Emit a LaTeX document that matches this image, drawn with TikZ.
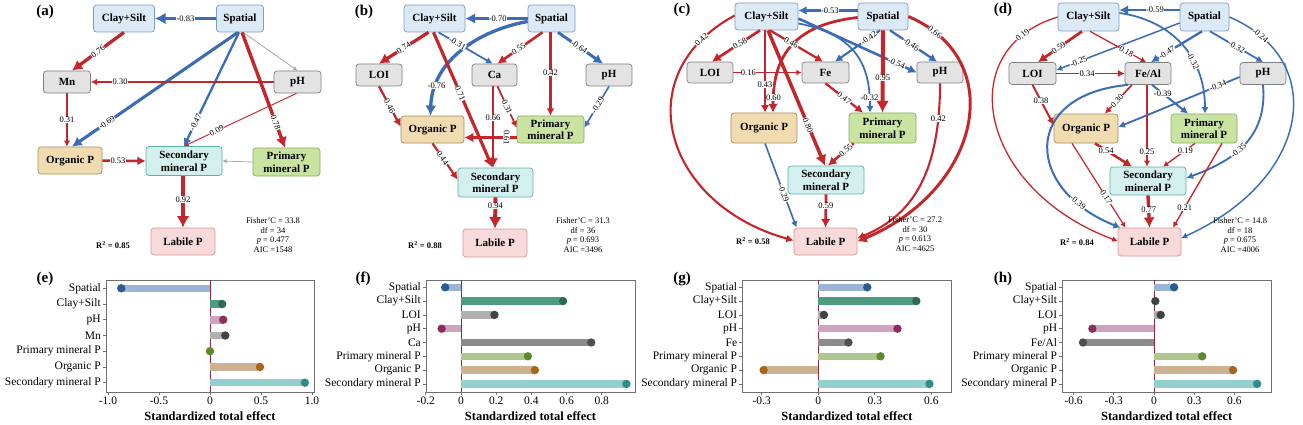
\documentclass[tikz,border=0pt]{standalone}
\usepackage{fontspec}
\setmainfont{Liberation Serif}
\usetikzlibrary{arrows.meta}
\definecolor{ared}{HTML}{C3262B}
\definecolor{ablue}{HTML}{3C6DB4}
\definecolor{agray}{HTML}{A9A9A9}
\definecolor{bxb}{HTML}{DCE9F7}\definecolor{bxbd}{HTML}{7C9CC4}
\definecolor{bxg}{HTML}{E3E3E3}\definecolor{bxgd}{HTML}{808080}
\definecolor{bxo}{HTML}{F1DCB2}\definecolor{bxod}{HTML}{A38D63}
\definecolor{bxs}{HTML}{D3F0EE}\definecolor{bxsd}{HTML}{5AB0AC}
\definecolor{bxp}{HTML}{C9E3A2}\definecolor{bxpd}{HTML}{88AE5E}
\definecolor{bxl}{HTML}{F8DADA}\definecolor{bxld}{HTML}{D69696}
\definecolor{bSp}{HTML}{9CB3D2}\definecolor{dSp}{HTML}{2A5B93}
\definecolor{bCs}{HTML}{4F9B80}\definecolor{dCs}{HTML}{2C6A55}
\definecolor{bPh}{HTML}{CDA3BF}\definecolor{dPh}{HTML}{8C2D5B}
\definecolor{bLo}{HTML}{B0B0B0}\definecolor{dLo}{HTML}{434343}
\definecolor{bCa}{HTML}{8C8C8C}\definecolor{dCa}{HTML}{4F4F4F}
\definecolor{bPr}{HTML}{AEC78F}\definecolor{dPr}{HTML}{5D8A2B}
\definecolor{bOr}{HTML}{CDB292}\definecolor{dOr}{HTML}{A6661C}
\definecolor{bSe}{HTML}{93CFCF}\definecolor{dSe}{HTML}{2E8C8A}
\definecolor{zl}{HTML}{8E2B3E}
\definecolor{frm}{HTML}{707070}
\tikzset{
  nd/.style={draw, rounded corners=3pt, line width=0.7pt, align=center, inner sep=0pt,
    font=\bfseries\fontsize{11}{12.5}\selectfont},
  sz/.style 2 args={minimum width=#1pt, minimum height=#2pt},
  bb/.style={nd, fill=bxb, draw=bxbd},
  gb/.style={nd, fill=bxg, draw=bxgd},
  ob/.style={nd, fill=bxo, draw=bxod},
  sb/.style={nd, fill=bxs, draw=bxsd},
  pb/.style={nd, fill=bxp, draw=bxpd},
  lb/.style={nd, fill=bxl, draw=bxld},
  tip/.style={-{Latex[length=2.5pt 2.3, width=2.5pt 2.6]}},
  re/.style={draw=ared, line width=#1pt, tip},
  be/.style={draw=ablue, line width=#1pt, tip},
  ge/.style={draw=agray, line width=0.8pt, tip},
  el/.style={font=\fontsize{8.5}{9}\selectfont, fill=white, inner sep=0.4pt},
  rsq/.style={font=\bfseries\fontsize{8.5}{9}\selectfont},
  stat/.style={font=\fontsize{8.5}{9.6}\selectfont, align=center},
  plab/.style={font=\bfseries\fontsize{15}{16}\selectfont},
  frame/.style={draw=frm, line width=0.8pt},
  effbar/.style={line width=7.5pt, draw=#1},
  ytl/.style={font=\fontsize{11.5}{12}\selectfont, anchor=east, inner sep=0pt},
  xtl/.style={font=\fontsize{11.5}{12}\selectfont, anchor=north, inner sep=1pt},
  xl/.style={font=\bfseries\fontsize{12.5}{13}\selectfont},
}
% #1 zero x, #2 scale, #3 left, #4 right, #5 dy, #6 list, #7 ticks, #8 prefix, #9 y0
\newcommand\effchart[9]{%
  \draw[frame] (#3,280) rectangle (#4,392);
  \draw[zl, line width=0.8pt] (#1,280) -- (#1,392);
  \foreach \i/\nm/\v/\bc/\dc in {#6} {
    \pgfmathsetmacro\yy{#9+\i*#5}
    \pgfmathsetmacro\xx{#1+#2*\v}
    \draw[effbar=\bc] (#1,\yy) -- (\xx,\yy);
    \fill[\dc] (\xx,\yy) circle[radius=4.2pt];
    \draw[frame] (#3,\yy) -- ++(-3,0);
    \node[ytl] (#8y\i) at ({#3-5},\yy) {\nm};
  }
  \foreach \t/\lb [count=\k] in {#7} {
    \draw[frame] ({#1+#2*\t},392) -- ++(0,3);
    \node[xtl] (#8x\k) at ({#1+#2*\t},395.5) {\lb};
  }
  \node[xl] (#8xl) at ({(#3+#4)/2},416) {Standardized total effect};
}
\begin{document}
\begin{tikzpicture}[x=1pt,y=-1pt]
\useasboundingbox[fill=white] (0,0) rectangle (1303,425);

% ================= (a) =================
\node[plab] (a-lab0) at (45,12) {(a)};
\node[bb,sz={61}{27}] (a-cs) at (124,18.5) {Clay+Silt};
\node[bb,sz={47}{27}] (a-sp) at (240,18.5) {Spatial};
\node[gb,sz={47}{22}] (a-mn) at (67,82) {Mn};
\node[gb,sz={47}{22}] (a-ph) at (297.5,82) {pH};
\node[ob,sz={64}{27}] (a-org) at (70,160.5) {Organic P};
\node[sb,sz={76}{29}] (a-sec) at (184,161) {Secondary\\mineral P};
\node[pb,sz={67}{28}] (a-pri) at (286.5,162) {Primary\\mineral P};
\node[lb,sz={64}{27}] (a-lab) at (183,241.5) {Labile P};
\draw[be=3.59] (a-sp.west) -- node[el]{-0.83} (a-cs.east);
\draw[ge] ([xshift=3pt]a-sp.south) -- (a-ph.north);
\draw[re=3.34] (a-cs.south) -- node[el,sloped]{0.76} ([xshift=5pt]a-mn.north);
\draw[be=3.08] ([xshift=-2pt]a-sp.south) -- node[el,sloped,pos=0.79]{-0.69} ([xshift=2pt]a-org.north);
\draw[be=2.29] ([xshift=-1pt]a-sp.south) -- node[el,sloped,pos=0.79]{-0.47} (a-sec.north);
\draw[re=1.68] (a-ph.west) -- node[el,pos=0.84]{0.30} (a-mn.east);
\draw[re=1.5] (a-mn.south) -- node[el]{0.31} ([xshift=-3pt]a-org.north);
\draw[re=0.92] ([xshift=-1pt]a-ph.south) -- node[el,sloped,pos=0.71]{0.09} (a-sec.north);
\draw[re=3.41] ([xshift=2pt]a-sp.south) -- node[el,sloped,pos=0.78]{0.78} ([xshift=-1.5pt]a-pri.north);
\draw[re=2.5] (a-org.east) -- node[el,pos=0.36]{0.53} (a-sec.west);
\draw[ge] (a-pri.west) -- (a-sec.east);
\draw[re=3.91] ([xshift=-1pt]a-sec.south) -- node[el,pos=0.46]{0.92} (a-lab.north);
\node[rsq] (a-r2) at (113,245) {R\textsuperscript{2} = 0.85};
\node[stat] (a-st) at (273,235) {Fisher’C = 33.8\\df = 34\\\textit{p} = 0.477\\AIC =1548};

% ================= (b) =================
\node[plab] (b-lab0) at (364,12) {(b)};
\node[bb,sz={61}{27}] (b-cs) at (434.5,18.5) {Clay+Silt};
\node[bb,sz={47}{27}] (b-sp) at (551.5,18.5) {Spatial};
\node[gb,sz={46}{22}] (b-loi) at (379,75) {LOI};
\node[gb,sz={45}{22}] (b-ca) at (494.5,75) {Ca};
\node[gb,sz={46}{22}] (b-ph) at (609,75) {pH};
\node[ob,sz={63}{27}] (b-org) at (432.5,129.5) {Organic P};
\node[pb,sz={67}{27}] (b-pri) at (550.5,129.5) {Primary\\mineral P};
\node[sb,sz={75}{29}] (b-sec) at (495.5,182.5) {Secondary\\mineral P};
\node[lb,sz={64}{28}] (b-lab) at (495,243) {Labile P};
\draw[be=3.34] ([yshift=-3pt]b-sp.west) .. controls (480,30) and (432,60) .. node[el,pos=0.8]{-0.76} ([xshift=-2pt]b-org.north);
\draw[be=3.12] (b-sp.west) -- node[el,pos=0.48]{-0.70} (b-cs.east);
\draw[re=3.16] ([xshift=-1pt]b-cs.south) -- node[el,sloped,pos=0.45]{0.71} ([xshift=-3pt]b-sec.north);
\draw[re=3.26] ([xshift=-6pt]b-cs.south) -- node[el,sloped]{0.74} (b-loi.north);
\draw[be=1.72] ([xshift=4pt]b-cs.south) -- node[el,sloped,pos=0.35]{-0.31} ([xshift=-2pt]b-ca.north);
\draw[re=2.58] ([xshift=-9pt]b-sp.south) -- node[el,sloped,pos=0.53]{0.55} ([xshift=3pt]b-ca.north);
\draw[re=2.1] ([xshift=-1pt]b-sp.south) -- node[el,pos=0.49]{0.42} (b-pri.north);
\draw[be=2.9] ([xshift=6.5pt]b-sp.south) -- node[el,sloped,pos=0.47]{-0.64} ([xshift=-6pt]b-ph.north);
\draw[re=2.26] (b-loi.south) -- node[el,sloped,pos=0.49]{0.46} ([yshift=3pt]b-org.west);
\draw[re=2.98] ([xshift=-1.5pt]b-ca.south) -- node[el,pos=0.39]{0.66} ([xshift=-2.5pt]b-sec.north);
\draw[re=1.72] ([xshift=3pt]b-ca.south) -- node[el,sloped]{0.31} ([yshift=2pt]b-pri.west);
\draw[be=1.64] (b-ph.south) -- node[el,sloped,pos=0.46]{-0.29} ([yshift=2pt]b-pri.east);
\draw[re=2.8] ([yshift=-8pt]b-pri.west) -- node[el,rotate=-90,pos=0.19]{0.61} ([yshift=-8pt]b-org.east);
\draw[re=2.18] (b-org.south) -- node[el,sloped,pos=0.4]{0.44} ([yshift=3pt]b-sec.west);
\draw[re=3.98] (b-sec.south) -- node[el,pos=0.28]{0.94} (b-lab.north);
\node[rsq] (b-r2) at (425,245) {R\textsuperscript{2} = 0.88};
\node[stat] (b-st) at (583,235) {Fisher’C = 31.3\\df = 36\\\textit{p} = 0.693\\AIC =3496};

% ================= (c) =================
\node[plab] (c-lab0) at (682,10) {(c)};
\node[bb,sz={63}{27}] (c-cs) at (766.5,16.5) {Clay+Silt};
\node[bb,sz={50}{27}] (c-sp) at (883,16.5) {Spatial};
\node[gb,sz={46}{21}] (c-loi) at (710,72.5) {LOI};
\node[gb,sz={47}{21}] (c-fe) at (825.5,72.5) {Fe};
\node[gb,sz={46}{21}] (c-ph) at (940,72.5) {pH};
\node[ob,sz={66}{30}] (c-org) at (764,128) {Organic P};
\node[pb,sz={67}{30}] (c-pri) at (882.5,128) {Primary\\mineral P};
\node[sb,sz={76}{28}] (c-sec) at (826,180) {Secondary\\mineral P};
\node[lb,sz={63}{27}] (c-lab) at (825.5,241.5) {Labile P};
\draw[re=2.1] ([yshift=1pt]c-cs.west) .. controls (625,75) and (665,205) .. node[el,sloped,pos=0.12]{0.42} ([yshift=1pt]c-lab.west);
\draw[re=2.98] (c-sp.east) .. controls (1010,60) and (980,190) .. node[el,sloped,pos=0.1]{0.66} (c-lab.east);
\draw[re=2.1] (c-ph.south) .. controls (940,190) and (900,220) .. node[el,pos=0.12]{0.42} ([yshift=3pt]c-lab.east);
\draw[re=2.76] ([yshift=-1pt]c-sp.west) .. controls (790,25) and (773,60) .. node[el,pos=0.9]{0.60} ([xshift=9pt]c-org.north);
\draw[be=1.75] ([yshift=-7pt]c-cs.east) .. controls (860,35) and (870,70) .. node[el,pos=0.88]{-0.32} ([xshift=-12.5pt]c-pri.north);
\draw[be=2.5] ([yshift=6pt]c-sp.west) -- node[el,pos=0.47]{-0.53} ([yshift=6pt]c-cs.east);
\draw[re=2.69] ([xshift=-6.5pt]c-cs.south) -- node[el,sloped,pos=0.42]{0.58} ([xshift=2pt]c-loi.north);
\draw[re=2.26] ([xshift=3.5pt]c-cs.south) -- node[el,sloped,pos=0.4]{0.46} ([xshift=-2.5pt]c-fe.north);
\draw[re=2.15] ([xshift=-1.5pt]c-cs.south) -- node[el,pos=0.66]{0.43} ([xshift=1pt]c-org.north);
\draw[re=3.48] ([xshift=1.5pt]c-cs.south) -- node[el,sloped,pos=0.7]{0.80} ([xshift=-1pt]c-sec.north);
\draw[be=2.54] ([yshift=-2pt]c-cs.east) -- node[el,sloped,pos=0.83]{-0.54} (c-ph.west);
\draw[be=2.1] ([xshift=-3pt]c-sp.south) -- node[el,sloped,pos=0.25]{-0.42} ([xshift=9.5pt]c-fe.north);
\draw[re=4.02] (c-sp.south) -- node[el,pos=0.58]{0.95} (c-pri.north);
\draw[be=2.26] ([xshift=7pt]c-sp.south) -- node[el,sloped,pos=0.45]{-0.46} ([xshift=-3pt]c-ph.north);
\draw[re=1.18] (c-loi.east) -- node[el,pos=0.22]{0.16} (c-fe.west);
\draw[re=2.29] (c-fe.south) -- node[el,sloped,pos=0.5]{0.47} ([xshift=-19.5pt]c-pri.north);
\draw[re=2.58] ([xshift=5pt]c-pri.south west) -- node[el,sloped,pos=0.3]{0.55} ([xshift=2pt]c-sec.north);
\draw[be=1.64] ([xshift=1pt]c-org.south) -- node[el,sloped,pos=0.59]{-0.29} ([xshift=-29pt]c-lab.north);
\draw[re=2.72] (c-sec.south) -- node[el,pos=0.35]{0.59} (c-lab.north);
\node[rsq] (c-r2) at (753,241) {R\textsuperscript{2} = 0.58};
\node[stat] (c-st) at (915,234) {Fisher’C = 27.2\\df = 30\\\textit{p} = 0.613\\AIC =4625};

% ================= (d) =================
\node[plab] (d-lab0) at (1003,10) {(d)};
\node[bb,sz={61}{28}] (d-cs) at (1088.5,17) {Clay+Silt};
\node[bb,sz={49}{28}] (d-sp) at (1204.5,17) {Spatial};
\node[gb,sz={47}{22}] (d-loi) at (1032.5,73.5) {LOI};
\node[gb,sz={46}{22}] (d-fe) at (1148,73.5) {Fe/Al};
\node[gb,sz={46}{22}] (d-ph) at (1263,73.5) {pH};
\node[ob,sz={64}{29}] (d-org) at (1086,128.5) {Organic P};
\node[pb,sz={66}{29}] (d-pri) at (1204,128.5) {Primary\\mineral P};
\node[sb,sz={76}{28}] (d-sec) at (1148,181) {Secondary\\mineral P};
\node[lb,sz={63}{28}] (d-lab) at (1149.5,242) {Labile P};
\draw[re=1.28] (d-cs.west) .. controls (950,50) and (980,190) .. node[el,sloped,pos=0.13]{0.19} ([yshift=1pt]d-lab.west);
\draw[be=1.46] (d-sp.east) .. controls (1330,60) and (1310,180) .. node[el,sloped,pos=0.12]{-0.24} ([yshift=4pt]d-lab.east);
\draw[be=2.0] ([xshift=-20pt]d-fe.south) .. controls (1020,95) and (1025,190) .. node[el,sloped,pos=0.82]{-0.39} ([xshift=-29pt]d-lab.north);
\draw[be=1.75] ([yshift=4pt]d-cs.east) .. controls (1170,20) and (1205,55) .. node[el,sloped,pos=0.65]{-0.32} ([xshift=1pt]d-pri.north);
\draw[be=1.86] (d-ph.south) .. controls (1268,140) and (1230,162) .. node[el,sloped,pos=0.55]{-0.35} ([yshift=3pt]d-sec.east);
\draw[be=2.72] ([yshift=7pt]d-sp.west) -- node[el,pos=0.41]{-0.59} ([yshift=7pt]d-cs.east);
\draw[be=1.5] ([yshift=-6pt]d-sp.west) -- node[el,sloped,pos=0.82]{-0.25} ([yshift=3.5pt]d-loi.east);
\draw[re=2.72] ([xshift=-6.5pt]d-cs.south) -- node[el,sloped,pos=0.53]{0.59} ([xshift=5.5pt]d-loi.north);
\draw[re=1.25] ([xshift=1.5pt]d-cs.south) -- node[el,sloped,pos=0.65]{0.18} ([xshift=-2pt]d-fe.north);
\draw[be=2.29] ([xshift=-2.5pt]d-sp.south) -- node[el,sloped,pos=0.69]{-0.47} ([xshift=3pt]d-fe.north);
\draw[be=1.75] ([xshift=5.5pt]d-sp.south) -- node[el,sloped,pos=0.5]{-0.32} (d-ph.north);
\draw[re=1.82] (d-loi.east) -- node[el,pos=0.45]{0.34} (d-fe.west);
\draw[re=1.97] (d-loi.south) -- node[el,pos=0.4]{0.38} ([yshift=3.5pt]d-org.west);
\draw[re=1.68] ([xshift=-16pt]d-fe.south) -- node[el,sloped,pos=0.55]{0.30} ([xshift=19pt]d-org.north);
\draw[re=1.5] ([xshift=-1pt]d-fe.south) -- node[el,pos=0.82]{0.25} ([xshift=-1pt]d-sec.north);
\draw[be=2.0] ([xshift=4pt]d-fe.south) -- node[el,pos=0.3]{-0.39} ([xshift=-16pt]d-pri.north);
\draw[be=1.82] ([yshift=-3.5pt]d-ph.west) -- node[el,sloped,pos=0.18]{-0.34} ([yshift=1.5pt]d-org.east);
\draw[re=2.54] ([xshift=9pt]d-org.south) -- node[el,pos=0.3]{0.54} ([xshift=-16pt]d-sec.north);
\draw[re=1.21] ([xshift=-14pt]d-org.south) -- node[el,sloped,pos=0.64]{0.17} ([xshift=-24pt]d-lab.north);
\draw[re=1.28] ([xshift=-9pt]d-pri.south) -- node[el,pos=0.3]{0.19} ([xshift=15pt]d-sec.north);
\draw[re=1.36] ([xshift=18pt]d-pri.south) -- node[el,pos=0.76]{0.21} ([xshift=23.5pt]d-lab.north);
\draw[re=3.37] (d-sec.south) -- node[el,pos=0.46]{0.77} (d-lab.north);
\node[rsq] (d-r2) at (1077,242) {R\textsuperscript{2} = 0.84};
\node[stat] (d-st) at (1240,235) {Fisher’C = 14.8\\df = 18\\\textit{p} = 0.675\\AIC =4006};

% ================= bar charts =================
\node[plab] (e-lab0) at (45,279) {(e)};
\effchart{210}{102}{106}{314}{15.73}{0/Spatial/-0.87/bSp/dSp, 1/Clay+Silt/0.12/bCs/dCs, 2/pH/0.13/bPh/dPh, 3/Mn/0.15/bLo/dLo, 4/Primary mineral P/0.0/bPr/dPr, 5/Organic P/0.49/bOr/dOr, 6/Secondary mineral P/0.93/bSe/dSe}{-1/-1.0, -0.5/-0.5, 0/0, 0.5/0.5, 1/1.0}{e}{288.3}

\node[plab] (f-lab0) at (363,279) {(f)};
\effchart{461}{176}{426}{635}{13.8}{0/Spatial/-0.09/bSp/dSp, 1/Clay+Silt/0.58/bCs/dCs, 2/LOI/0.19/bLo/dLo, 3/pH/-0.11/bPh/dPh, 4/Ca/0.74/bCa/dCa, 5/Primary mineral P/0.38/bPr/dPr, 6/Organic P/0.42/bOr/dOr, 7/Secondary mineral P/0.94/bSe/dSe}{-0.2/-0.2, 0/0, 0.2/0.2, 0.4/0.4, 0.6/0.6, 0.8/0.8}{f}{287.3}

\node[plab] (g-lab0) at (682,279) {(g)};
\effchart{818.3}{188.5}{742.3}{951.7}{13.8}{0/Spatial/0.26/bSp/dSp, 1/Clay+Silt/0.52/bCs/dCs, 2/LOI/0.03/bLo/dLo, 3/pH/0.42/bPh/dPh, 4/Fe/0.16/bCa/dCa, 5/Primary mineral P/0.33/bPr/dPr, 6/Organic P/-0.29/bOr/dOr, 7/Secondary mineral P/0.59/bSe/dSe}{-0.3/-0.3, 0/0, 0.3/0.3, 0.6/0.6}{g}{287.3}

\node[plab] (h-lab0) at (1003,279) {(h)};
\effchart{1154}{134}{1062.3}{1271}{13.8}{0/Spatial/0.15/bSp/dSp, 1/Clay+Silt/0.01/bCs/dLo, 2/LOI/0.05/bLo/dLo, 3/pH/-0.46/bPh/dPh, 4/{Fe/Al}/-0.53/bCa/dCa, 5/Primary mineral P/0.36/bPr/dPr, 6/Organic P/0.59/bOr/dOr, 7/Secondary mineral P/0.77/bSe/dSe}{-0.6/-0.6, -0.3/-0.3, 0/0, 0.3/0.3, 0.6/0.6}{h}{287.3}
\end{tikzpicture}
\end{document}
